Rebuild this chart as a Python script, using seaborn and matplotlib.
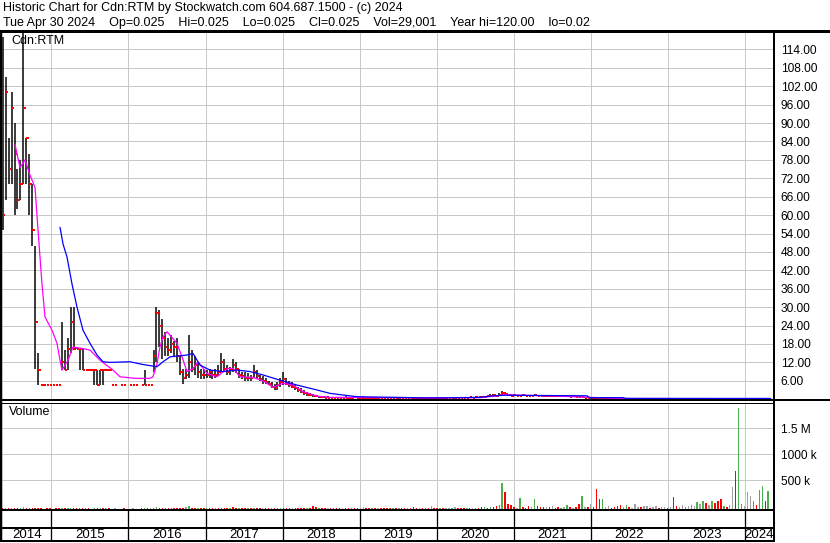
import numpy as np
import pandas as pd
import matplotlib
matplotlib.use("Agg")
import matplotlib.pyplot as plt
from matplotlib.lines import Line2D
import seaborn as sns

nan = np.nan

# ---------------- data ----------------
header1 = "Historic Chart for Cdn:RTM by Stockwatch.com 604.687.1500 - (c) 2024"
header2 = ("Tue Apr 30 2024    Op=0.025    Hi=0.025    Lo=0.025    Cl=0.025    "
           "Vol=29,001    Year hi=120.00    lo=0.02")
symbol = "Cdn:RTM"

# one price bar every 14 days starting at this date
bar_start = "2014-05-16"

close = (
    [60, 100, 75, 95, 80, 65, 70, 95, 85, 70, 55, 25, 9.5, 4.6, 4.6, 4.6, 4.6, 4.6, 4.6, 4.6, 12, 9.5, 16.5, 25, 16.5, 16.5] +
    [16.5, 9.5, 9.5, 9.5, 9.5, 9.5, 4.6, 9.5, 9.5, 9.5, 9.5, 4.6, 4.6, nan, 4.6, 4.6, nan, 4.6, 4.6, 4.6, nan, 4.6, 4.6, 4.6, 4.6, 14] +
    [28, 24, 20, 17, 16, 18, 17, 14, 9, 7, 8, 12, 10, 11, 9, 8, 8, 8, 9, 8, 8, 9, 12, 10, 9, 10] +
    [11, 10, 8, 7.5, 7, 7, 7, 9, 7.5, 6.5, 6, 5.5, 5, 4, 3.5, 4.5, 5.5, 6.5, 5, 4.5, 4, 3.5, 3, 2.5, 2, 1.5] +
    [1.3, 1.0, 0.9, 0.7, 0.6, 0.5, 0.5, 0.4, 0.4, 0.5, 0.4, 0.5, 0.5, 0.4, 0.5, 0.6, 0.5, 0.4, 0.4, 0.5, 0.5, 0.4, 0.4, 0.5, 0.4, 0.4] +
    [0.4, 0.5, 0.4, 0.4, 0.3, 0.4, 0.4, 0.5, 0.4, 0.3, 0.4, 0.4, 0.3, 0.4, 0.5, 0.4, 0.4, 0.3, 0.4, 0.4, 0.5, 0.4, 0.4, 0.3, 0.4, 0.4] +
    [0.5, 0.5, 0.6, 0.5, 0.7, 0.6, 0.7, 0.8, 0.9, 1.2, 1.4, 1.1, 1.3, 2.0, 1.6, 1.3, 1.2, 1.3, 1.1, 1.2, 1.3, 1.2, 1.1, 1.2, 1.3, 1.1] +
    [1.2, 1.1, 1.0, 1.2, 1.1, 1.0, 1.1, 0.9, 1.0, 0.9, 0.8, 0.9, 0.8, 0.8, 0.7, 0.5, 0.4, 0.3, 0.3, 0.25, 0.3, 0.25, 0.2, 0.25, 0.2, 0.2] +
    [0.2, 0.25, 0.2, 0.2, 0.15, 0.2, 0.2, 0.15, 0.2, 0.2, 0.15, 0.15, 0.2, 0.15, 0.15, 0.2, 0.15, 0.15, 0.15, 0.2, 0.15, 0.15, 0.15, 0.15, 0.15, 0.15] +
    [0.15, 0.15, 0.2, 0.15, 0.15, 0.15, 0.2, 0.15, 0.15, 0.15, 0.15, 0.2, 0.15, 0.15, 0.15, 0.15, 0.2, 0.15, 0.15, 0.15, 0.15, 0.15, 0.15, 0.15, 0.15, 0.15]
)
high = (
    [118, 105, 85, 100, 90, 75, 78, 120, 85, 80, 70, 50, 15, 4.6, 4.6, 4.6, 4.6, 4.6, 4.6, 4.6, 25, 16, 20, 30, 30, 17] +
    [16.5, 16.5, 9.5, 9.5, 9.5, 9.5, 9.5, 9.5, 9.5, 9.5, 9.5, 4.6, 4.6, nan, 4.6, 4.6, nan, 4.6, 4.6, 4.6, nan, 4.6, 9.5, 4.6, 4.6, 16] +
    [30, 29, 26, 22, 20, 21, 19, 20, 14, 10, 10, 21, 16, 14, 12, 10, 10, 9.5, 10, 9.5, 10, 11, 15, 13, 11, 10.5] +
    [13, 12, 10, 9, 9, 8.5, 8, 11, 9.5, 8, 7.5, 7, 6, 5.5, 5, 5.5, 7, 9, 7, 6, 5.5, 5, 4, 3.5, 3, 2.5] +
    [2, 1.8, 1.5, 1.2, 1.0, 1.0, 0.9, 0.8, 0.7, 0.7, 0.6, 0.8, 1.0, 0.6, 0.7, 0.9, 0.7, 0.6, 1.0, 0.7, 0.7, 0.6, 0.6, 0.7, 0.6, 0.6] +
    [0.6, 0.7, 0.6, 0.6, 0.5, 0.6, 0.6, 0.8, 0.6, 0.5, 0.6, 0.6, 0.5, 0.6, 0.7, 0.6, 0.6, 0.5, 0.6, 0.6, 0.7, 0.6, 0.6, 0.5, 0.6, 0.6] +
    [0.7, 0.7, 0.8, 0.7, 0.9, 0.8, 0.9, 1.0, 1.2, 1.6, 1.8, 1.4, 2.0, 2.8, 2.2, 1.6, 1.5, 1.6, 1.4, 1.5, 1.6, 1.5, 1.4, 1.5, 1.6, 1.4] +
    [1.5, 1.4, 1.3, 1.5, 1.4, 1.3, 1.4, 1.2, 1.3, 1.2, 1.1, 1.2, 1.1, 1.1, 1.0, 0.8, 0.6, 0.5, 0.4, 0.4, 0.4, 0.4, 0.3, 0.4, 0.3, 0.3] +
    [0.3, 0.35, 0.3, 0.3, 0.25, 0.3, 0.3, 0.25, 0.3, 0.3, 0.25, 0.25, 0.3, 0.25, 0.25, 0.3, 0.25, 0.25, 0.25, 0.3, 0.25, 0.25, 0.25, 0.25, 0.25, 0.25] +
    [0.25, 0.25, 0.3, 0.25, 0.25, 0.25, 0.3, 0.25, 0.25, 0.25, 0.25, 0.3, 0.25, 0.25, 0.25, 0.4, 0.3, 0.25, 0.25, 0.25, 0.25, 0.25, 0.25, 0.25, 0.25, 0.2]
)
low = (
    [55, 65, 70, 70, 60, 62, 65, 70, 70, 60, 50, 10, 4.6, 4.6, 4.6, 4.6, 4.6, 4.6, 4.6, 4.6, 9.5, 9.5, 9.5, 15, 16, 16.5] +
    [9.5, 9.5, 9.5, 9.5, 9.5, 4.6, 4.6, 4.6, 4.6, 9.5, 9.5, 4.6, 4.6, nan, 4.6, 4.6, nan, 4.6, 4.6, 4.6, nan, 4.6, 4.6, 4.6, 4.6, 9] +
    [12, 17, 13, 14, 14, 15, 14, 12, 8, 5, 6.5, 7, 9, 8, 7, 6.5, 6.5, 7, 7, 6.5, 7, 8, 9, 9, 8, 8] +
    [9, 8.5, 7, 6.5, 6, 6, 6, 7, 6.5, 6, 5, 5, 4.5, 3.5, 3, 3, 4, 4.5, 4.5, 4, 3.5, 3, 2.5, 2, 1.5, 1.2] +
    [1, 0.8, 0.7, 0.5, 0.5, 0.4, 0.4, 0.3, 0.3, 0.4, 0.3, 0.4, 0.4, 0.3, 0.4, 0.4, 0.4, 0.3, 0.3, 0.4, 0.4, 0.3, 0.3, 0.4, 0.3, 0.3] +
    [0.3, 0.4, 0.3, 0.3, 0.2, 0.3, 0.3, 0.4, 0.3, 0.2, 0.3, 0.3, 0.2, 0.3, 0.4, 0.3, 0.3, 0.2, 0.3, 0.3, 0.4, 0.3, 0.3, 0.2, 0.3, 0.3] +
    [0.4, 0.4, 0.5, 0.4, 0.6, 0.5, 0.6, 0.7, 0.8, 1.0, 1.2, 1.0, 1.1, 1.2, 1.3, 1.1, 1.0, 1.1, 1.0, 1.0, 1.1, 1.0, 1.0, 1.0, 1.1, 1.0] +
    [1.0, 1.0, 0.9, 1.0, 1.0, 0.9, 1.0, 0.8, 0.9, 0.8, 0.7, 0.8, 0.7, 0.7, 0.6, 0.4, 0.3, 0.2, 0.2, 0.2, 0.2, 0.2, 0.15, 0.2, 0.15, 0.15] +
    [0.1, 0.15, 0.1, 0.1, 0.1, 0.1, 0.1, 0.1, 0.1, 0.1, 0.1, 0.1, 0.1, 0.1, 0.1, 0.1, 0.1, 0.1, 0.1, 0.1, 0.1, 0.1, 0.1, 0.1, 0.1, 0.1] +
    [0.1, 0.1, 0.1, 0.1, 0.1, 0.1, 0.1, 0.1, 0.1, 0.1, 0.1, 0.1, 0.1, 0.1, 0.1, 0.1, 0.1, 0.1, 0.1, 0.1, 0.1, 0.1, 0.1, 0.1, 0.1, 0.1]
)

# volume (thousands of shares) on the same 14-day grid
volume_k = (
    [16, 10, 20, 12, 24, 16, 10, 30, 20, 12, 16, 24, 20, 10, 8, 12, 10, 8, 12, 10, 20, 12, 16, 24, 16, 12] +
    [12, 10, 16, 12, 8, 16, 12, 20, 14, 10, 12, 8, 10, 0, 8, 10, 0, 8, 12, 8, 0, 10, 16, 10, 12, 24] +
    [30, 25, 20, 18, 16, 20, 16, 22, 18, 20, 35, 60, 25, 18, 16, 12, 16, 12, 18, 16, 12, 16, 22, 18, 16, 18] +
    [40, 18, 16, 12, 16, 12, 16, 22, 16, 12, 12, 10, 16, 12, 16, 18, 22, 25, 18, 16, 12, 16, 12, 16, 18, 22] +
    [25, 50, 35, 20, 18, 16, 12, 16, 12, 10, 12, 16, 12, 10, 12, 16, 10, 12, 35, 12, 10, 12, 16, 12, 10, 12] +
    [12, 10, 16, 12, 10, 12, 16, 12, 10, 40, 16, 12, 10, 12, 16, 50, 12, 10, 12, 16, 12, 25, 20, 30, 18, 16] +
    [15, 18, 12, 16, 20, 25, 40, 30, 25, 30, 40, 60, 80, 500, 330, 90, 80, 30, 20, 217, 40, 20, 60, 30, 185, 60] +
    [30, 30, 40, 30, 60, 20, 40, 20, 30, 80, 40, 20, 30, 100, 250, 30, 40, 100, 30, 385, 190, 190, 30, 60, 20, 40] +
    [60, 80, 40, 70, 30, 20, 90, 40, 30, 60, 50, 20, 30, 60, 20, 40, 30, 20, 40, 230, 60, 40, 70, 40, 60, 80] +
    [60, 130, 90, 150, 120, 80, 150, 110, 150, 190, 60, 40, 80, 430, 730, 1940, 100, 60, 330, 250, 150, 80, 370, 440, 150, 350]
)
# g = up day, r = down day, k = unchanged
volume_dir = (
    "rgrgrrggrgrrrrkrrkrrgrggrr" +
    "rrkrrgrgrkrrkkrrkrkrkrgrkg" +
    "grrgrgrrrrkgrrgrrgrrgrgrrg" +
    "rrgrrgrgrrkrrgrggrrrkrrrrg" +
    "rrrgrrkrgrrkrrgrrkkrrgrkrr" +
    "rrgrkrrgrrrkrgrkrrgrkkgkrr" +
    "rgrkgrrgrgrrggrrrrkgrrrkgr" +
    "rrkrkrrgkgrkrrgkrkrrrgkkrr" +
    "rrkgrkkkrkkrkkrkkrkrrkkgkg" +
    "kgkgrkgrrrgrkkrggkkkgrggrg"
)

# moving averages (decimal year, price)
ma_short_t = [2014.529, 2014.594, 2014.659, 2014.724, 2014.789, 2014.828, 2014.879, 2014.918,
              2015.009, 2015.074, 2015.113, 2015.139, 2015.217, 2015.281, 2015.411, 2015.502,
              2015.632, 2015.800, 2015.891, 2016.086, 2016.280, 2016.319, 2016.371, 2016.410,
              2016.449, 2016.501, 2016.630, 2016.695, 2016.760, 2016.838, 2016.903, 2017.019,
              2017.149, 2017.279, 2017.357, 2017.448, 2017.616, 2017.746, 2017.875, 2018.005,
              2018.135, 2018.265, 2018.446, 2018.615, 2019.523, 2020.560, 2020.755, 2020.885,
              2021.079, 2021.598, 2021.987, 2022.376, 2024.330]
ma_short = [83, 75.5, 78, 73, 69, 55, 37.6, 26.8,
            22.5, 18.2, 12.7, 9.5, 12.7, 17, 16.5, 16,
            12.7, 9.5, 7.3, 6.8, 6.8, 7.3, 11.6, 17.1,
            20.3, 22, 18.2, 13.8, 9, 10, 12.2, 8.4,
            7.3, 10, 10, 7.3, 7.1, 6, 3.9, 5.2,
            4.6, 2.5, 1.0, 0.6, 0.5, 0.5, 1.0, 1.5,
            1.3, 1.0, 0.6, 0.25, 0.15]

ma_long_t = [2015.113, 2015.152, 2015.204, 2015.268, 2015.333, 2015.411, 2015.502, 2015.593,
             2015.671, 2015.761, 2016.021, 2016.189, 2016.371, 2016.449, 2016.540, 2016.760,
             2016.838, 2016.929, 2017.058, 2017.227, 2017.409, 2017.577, 2017.746, 2017.966,
             2018.187, 2018.446, 2018.615, 2018.965, 2019.484, 2019.912, 2020.560, 2020.690,
             2020.885, 2021.948, 2021.987, 2022.415, 2022.454, 2024.330]
ma_long = [56, 50.6, 46.3, 37.6, 30, 22.5, 18.2, 14.4,
           12.2, 12, 12.2, 11.3, 10.6, 12.2, 13.8, 14.4,
           14.9, 11.1, 9.5, 9, 9.5, 9, 7.9, 6.2,
           4.6, 3, 1.9, 0.8, 0.6, 0.4, 0.6, 1.0,
           1.3, 1.1, 0.5, 0.5, 0.25, 0.25]

years = list(range(2014, 2025))
price_ticks = [6, 12, 18, 24, 30, 36, 42, 48, 54, 60, 66, 72, 78, 84, 90, 96, 102, 108, 114]
volume_ticks_k = [500, 1000, 1500]
volume_tick_labels = ["500 k", "1000 k", "1.5 M"]

# ---------------- drawing ----------------
sns.set_theme(style="white")
plt.rcParams["font.family"] = ["Liberation Sans", "DejaVu Sans"]

W, H = 830, 543
fig = plt.figure(figsize=(W / 100, H / 100), dpi=100)
fig.patch.set_facecolor("white")


def box(l, t, r, b):
    return [l / W, 1 - b / H, (r - l) / W, (b - t) / H]


def hline(y, x0, x1, lw_px):
    fig.add_artist(Line2D([x0 / W, x1 / W], [1 - y / H, 1 - y / H], transform=fig.transFigure,
                          color="black", lw=lw_px * 0.72, solid_capstyle="butt"))


def vline(x, y0, y1, lw_px):
    fig.add_artist(Line2D([x / W, x / W], [1 - y0 / H, 1 - y1 / H], transform=fig.transFigure,
                          color="black", lw=lw_px * 0.72, solid_capstyle="butt"))


n = min(len(close), len(high), len(low), len(volume_k), len(volume_dir))
dates = pd.date_range(bar_start, periods=n, freq="14D")
t = np.asarray(dates.year + (dates.dayofyear - 1) / 365.25, dtype=float)
c = np.array(close[:n], dtype=float)
hi = np.array(high[:n], dtype=float)
lo = np.array(low[:n], dtype=float)
vol = np.array(volume_k[:n], dtype=float)
col_map = {"g": "#4cb04c", "r": "#ff0000", "k": "#a0a0a0"}
vcols = [col_map[ch] for ch in volume_dir[:n]]

X0, X1 = 2014.3605, 2024.3605
PX = 77.1  # pixels per year
grid_kw = dict(color="#c8c8c8", lw=0.72)

# ---- price panel ----
ax_p = fig.add_axes(box(2, 31, 773, 399.2))
ax_p.set_xlim(X0, X1)
ax_p.set_ylim(0, 120)
for s in ax_p.spines.values():
    s.set_visible(False)
ax_p.set_xticks(years[1:])
ax_p.set_xticklabels([])
ax_p.set_yticks(price_ticks)
ax_p.set_yticklabels([f"{v:.2f}" for v in price_ticks])
ax_p.yaxis.tick_right()
ax_p.tick_params(axis="y", length=0, pad=5.5, labelsize=8.6, colors="black")
ax_p.tick_params(axis="x", length=0)
ax_p.grid(True, **grid_kw)
ax_p.set_axisbelow(True)

ax_p.vlines(t, lo, hi, color="black", lw=1.5 * 0.72, zorder=3)
ax_p.hlines(c, t, t + 2.4 / PX, color="red", lw=2 * 0.72, zorder=4)
sns.lineplot(x=ma_short_t, y=ma_short, ax=ax_p, color="#ff00ff", lw=0.9, sort=False, zorder=5)
sns.lineplot(x=ma_long_t, y=ma_long, ax=ax_p, color="#0000ff", lw=0.9, sort=False, zorder=5)
ax_p.set_xlabel("")
ax_p.set_ylabel("")
ax_p.text(9 / 771, 1 - 10 / 368, symbol, transform=ax_p.transAxes, fontsize=9,
          va="center", ha="left", color="black")

# ---- volume panel ----
ax_v = fig.add_axes(box(2, 402.3, 773, 509))
ax_v.set_xlim(X0, X1)
vmax = 2000
vmin = -(509 - 506.3) / 26 * 500
ax_v.set_ylim(vmin, vmax)
for s in ax_v.spines.values():
    s.set_visible(False)
ax_v.set_xticks(years[1:])
ax_v.set_xticklabels([])
ax_v.set_yticks(volume_ticks_k)
ax_v.set_yticklabels(volume_tick_labels)
ax_v.yaxis.tick_right()
ax_v.tick_params(axis="y", length=0, pad=5.5, labelsize=8.6, colors="black")
ax_v.tick_params(axis="x", length=0)
ax_v.grid(True, **grid_kw)
ax_v.set_axisbelow(True)
ax_v.bar(t, vol, width=1.5 / PX, bottom=vmin, color=vcols, linewidth=0, zorder=3)
ax_v.text(7 / 771, 1 - 10 / 106.7, "Volume", transform=ax_v.transAxes, fontsize=9,
          va="center", ha="left", color="black")

# ---- time axis ----
ax_t = fig.add_axes(box(2, 509, 773, 541))
ax_t.set_xlim(X0, X1)
ax_t.set_ylim(0, 1)
ax_t.axis("off")
ax_t.vlines(years[1:], 0, 1, color="black", lw=1.3 * 0.72)
bounds = [X0] + years[1:] + [X1]
for i, yr in enumerate(years):
    ax_t.text((bounds[i] + bounds[i + 1]) / 2, 0.2, str(yr), ha="center", va="center",
              fontsize=9.5, color="black")

# ---- frame lines ----
hline(31, 0, 830, 3)
hline(400, 0, 830, 2)
hline(402.5, 0, 773, 1)
hline(509.5, 0, 773, 2)
hline(528, 0, 773, 2)
hline(541, 0, 773, 2)
vline(1, 30, 542, 2.5)
vline(773.5, 30, 542, 2)

# ---- header ----
fig.text(3 / W, 1 - 8.5 / H, header1, fontsize=9, va="center", ha="left", color="black")
fig.text(3 / W, 1 - 23 / H, header2, fontsize=9, va="center", ha="left", color="black")

fig.savefig("out.png", dpi=100, facecolor="white")
